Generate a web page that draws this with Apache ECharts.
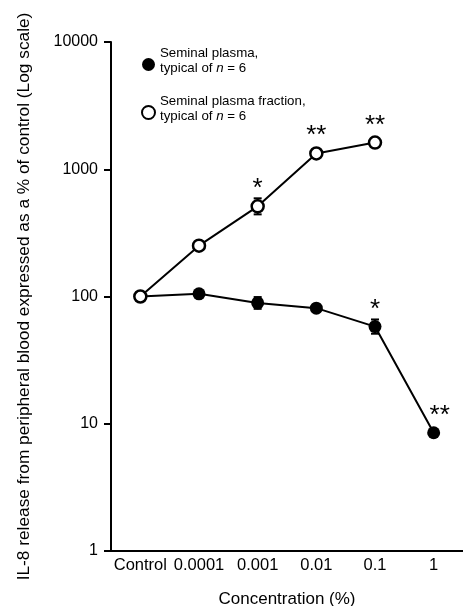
<!DOCTYPE html>
<html>
<head>
<meta charset="utf-8">
<script src="https://cdn.jsdelivr.net/npm/echarts@6/dist/echarts.min.js"></script>
<style>
html,body{margin:0;padding:0;background:#fff;}
#c{width:463px;height:606px;}
</style>
</head>
<body>
<div id="c"></div>
<script>
var categories = ['Control', '0.0001', '0.001', '0.01', '0.1', '1'];
var yTicks = [1, 10, 100, 1000, 10000];
var plasma = [100, 105, 89, 81, 58, 8.5];
var fraction = [100, 251, 511, 1330, 1620];
// [category index, low, high]
var plasmaErr = [[2, 80, 99], [4, 51, 66]];
var fractionErr = [[2, 442, 591]];
var plasmaStars = ['', '', '', '', '*', '**'];
var fractionStars = ['', '', '*', '**', '**'];

var FONT = '"Liberation Sans", Arial, Helvetica, sans-serif';

function starData(values, stars, extra) {
  return values.map(function (v, i) {
    var item = { value: v };
    if (stars[i]) {
      item.label = Object.assign({ show: true, formatter: stars[i] }, extra && extra[i] ? extra[i] : {});
    }
    return item;
  });
}

function errRender(params, api) {
  var x = api.value(0);
  var lo = api.coord([x, api.value(1)]);
  var hi = api.coord([x, api.value(2)]);
  var w = 4;
  var st = { stroke: '#000', lineWidth: 2 };
  return {
    type: 'group',
    children: [
      { type: 'line', shape: { x1: lo[0], y1: lo[1], x2: hi[0], y2: hi[1] }, style: st },
      { type: 'line', shape: { x1: lo[0] - w, y1: lo[1], x2: lo[0] + w, y2: lo[1] }, style: st },
      { type: 'line', shape: { x1: hi[0] - w, y1: hi[1], x2: hi[0] + w, y2: hi[1] }, style: st }
    ]
  };
}

var starLabel = {
  position: 'top',
  distance: -3,
  fontSize: 26,
  fontFamily: FONT,
  color: '#000',
  lineHeight: 26
};

var chart = echarts.init(document.getElementById('c'), null, { renderer: 'canvas' });
chart.setOption({
  animation: false,
  backgroundColor: '#fff',
  grid: { left: 111, top: 42, right: 0, bottom: 55, containLabel: false, outerBoundsMode: 'none' },
  legend: {
    orient: 'vertical',
    left: 136,
    top: 42,
    itemWidth: 13,
    itemHeight: 13,
    itemGap: 20,
    icon: 'circle',
    data: ['Seminal plasma', 'Seminal plasma fraction'],
    formatter: function (name) {
      return '{a|' + name + ',}\n{a|typical of }{i|n}{a| = 6}';
    },
    textStyle: {
      color: '#000',
      fontFamily: FONT,
      fontSize: 13.3,
      padding: [0, 0, 7, 0],
      rich: {
        a: { fontSize: 13.3, fontFamily: FONT, color: '#000', lineHeight: 15 },
        i: { fontSize: 13.3, fontFamily: FONT, color: '#000', lineHeight: 15, fontStyle: 'italic' }
      }
    }
  },
  xAxis: {
    type: 'category',
    data: categories,
    boundaryGap: true,
    name: 'Concentration (%)',
    nameLocation: 'middle',
    nameGap: 40,
    nameTextStyle: { fontSize: 17, fontFamily: FONT, color: '#000' },
    axisLine: { lineStyle: { color: '#000', width: 2 } },
    axisTick: { alignWithLabel: true, length: 5, lineStyle: { color: '#000', width: 2 } },
    axisLabel: { margin: 6, fontSize: 16.5, fontFamily: FONT, color: '#000', interval: 0 },
    splitLine: { show: false }
  },
  yAxis: {
    type: 'log',
    logBase: 10,
    min: yTicks[0],
    max: yTicks[yTicks.length - 1],
    name: 'IL-8 release from peripheral blood expressed as a % of control (Log scale)',
    nameLocation: 'middle',
    nameGap: 78,
    nameTextStyle: { fontSize: 17.3, fontFamily: FONT, color: '#000' },
    axisLine: { show: true, lineStyle: { color: '#000', width: 2 } },
    axisTick: { show: true, length: 7, lineStyle: { color: '#000', width: 2 } },
    axisLabel: {
      margin: 13, fontSize: 16, fontFamily: FONT, color: '#000',
      formatter: function (v) { return String(Math.round(v)); }
    },
    splitLine: { show: false },
    minorTick: { show: false }
  },
  series: [
    {
      type: 'custom',
      name: 'plasmaErr',
      renderItem: errRender,
      data: plasmaErr,
      z: 1,
      silent: true
    },
    {
      type: 'custom',
      name: 'fractionErr',
      renderItem: errRender,
      data: fractionErr,
      z: 1,
      silent: true
    },
    {
      type: 'line',
      name: 'Seminal plasma',
      data: starData(plasma, plasmaStars, { 5: { offset: [6, 0] } }),
      symbol: 'circle',
      symbolSize: 13,
      lineStyle: { color: '#000', width: 2 },
      itemStyle: { color: '#000', borderColor: '#000', borderWidth: 0 },
      label: starLabel,
      z: 3
    },
    {
      type: 'line',
      name: 'Seminal plasma fraction',
      data: starData(fraction, fractionStars),
      symbol: 'circle',
      symbolSize: 12,
      showAllSymbol: true,
      lineStyle: { color: '#000', width: 2 },
      itemStyle: { color: '#fff', borderColor: '#000', borderWidth: 2.5 },
      label: starLabel,
      z: 4
    }
  ]
});
</script>
</body>
</html>
